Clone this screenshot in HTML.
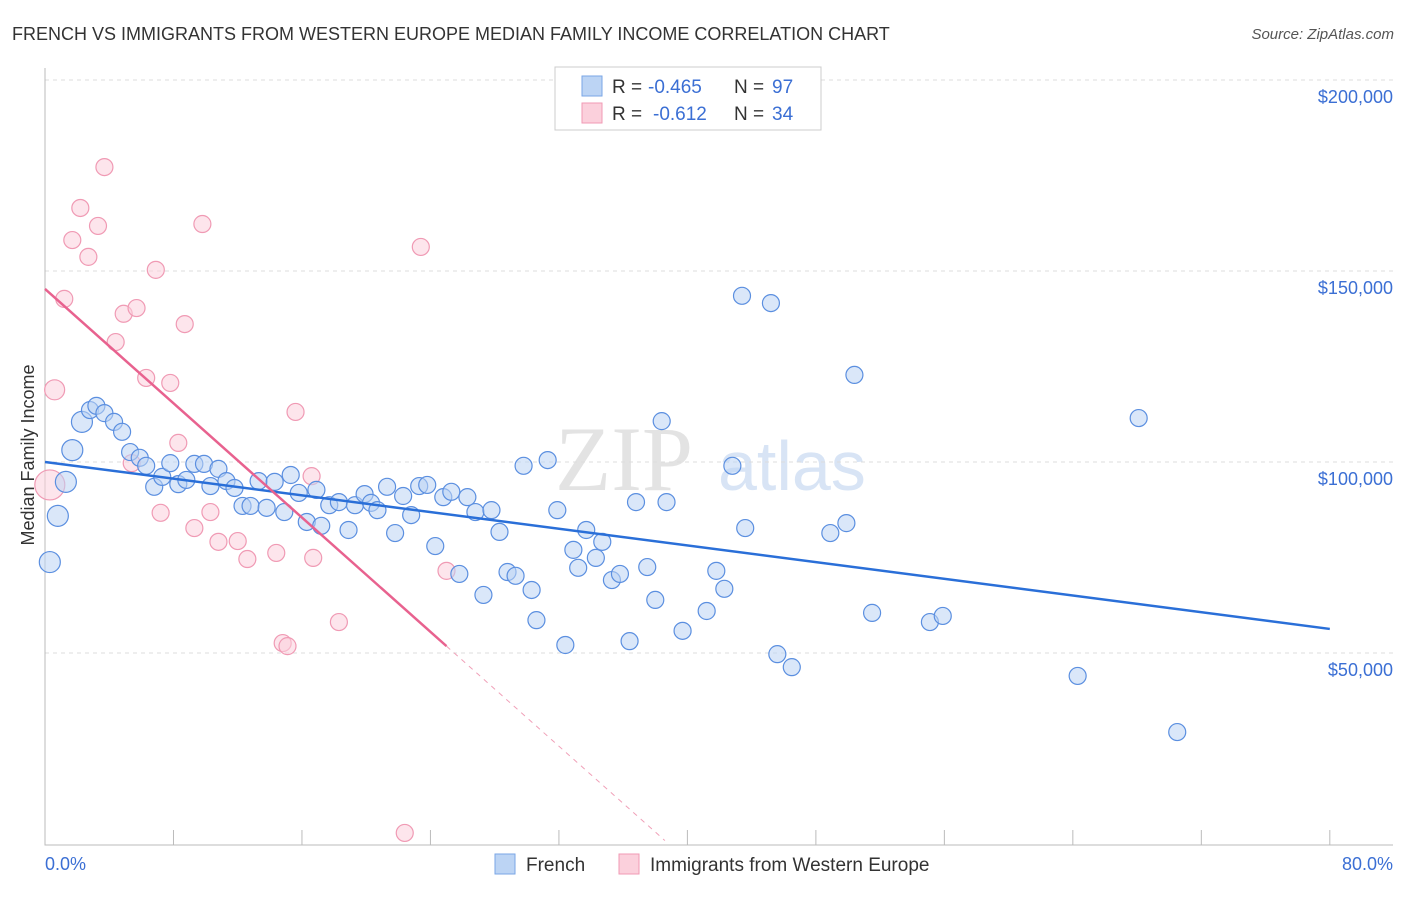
<!DOCTYPE html>
<html><head><meta charset="utf-8"><style>
body{margin:0;background:#fff;font-family:"Liberation Sans",sans-serif;}
</style></head><body>
<svg width="1406" height="892" xmlns="http://www.w3.org/2000/svg" font-family="Liberation Sans, sans-serif">
<text x="12" y="40" font-size="18" fill="#333">FRENCH VS IMMIGRANTS FROM WESTERN EUROPE MEDIAN FAMILY INCOME CORRELATION CHART</text>
<text x="1394" y="39" font-size="15" fill="#555" font-style="italic" text-anchor="end">Source: ZipAtlas.com</text>
<g><text x="555" y="490" font-size="92" fill="#ddd" font-family="Liberation Serif, serif" opacity="0.8">ZIP</text><text x="718" y="490" font-size="70" fill="#c8daf2" opacity="0.7">atlas</text></g>
<g id="grid"></g><g id="axes"></g><g id="marks"></g>
<text transform="translate(34,455) rotate(-90)" font-size="18" fill="#333" text-anchor="middle">Median Family Income</text>
<text x="45" y="870" font-size="18" fill="#3b6fd4">0.0%</text>
<text x="1393" y="870" font-size="18" fill="#3b6fd4" text-anchor="end">80.0%</text>
<g>
<rect x="555" y="67" width="266" height="63" fill="#fff" stroke="#ccc"/>
<rect x="582" y="76" width="20" height="20" fill="#bcd4f4" stroke="#7aa6e6"/>
<rect x="582" y="103" width="20" height="20" fill="#fbd0dc" stroke="#f09ab4"/>
<text x="612" y="93" font-size="19" fill="#333">R =</text>
<text x="648" y="93" font-size="19" fill="#3b6fd4">-0.465</text>
<text x="734" y="93" font-size="19" fill="#333">N =</text>
<text x="772" y="93" font-size="19" fill="#3b6fd4">97</text>
<text x="612" y="120" font-size="19" fill="#333">R =</text>
<text x="653" y="120" font-size="19" fill="#3b6fd4">-0.612</text>
<text x="734" y="120" font-size="19" fill="#333">N =</text>
<text x="772" y="120" font-size="19" fill="#3b6fd4">34</text>
</g>
<g>
<rect x="495" y="854" width="20" height="20" fill="#bcd4f4" stroke="#7aa6e6"/>
<text x="526" y="871" font-size="19" fill="#333">French</text>
<rect x="619" y="854" width="20" height="20" fill="#fbd0dc" stroke="#f09ab4"/>
<text x="650" y="871" font-size="19" fill="#333">Immigrants from Western Europe</text>
</g>
</svg>
<script>
const yTicks=[50000,100000,150000,200000];
const yTickLabels=["$50,000","$100,000","$150,000","$200,000"];
const xTicks=[0,8,16,24,32,40,48,56,64,72,80];
const frenchX=[0.3,0.8,1.3,1.7,2.3,2.8,3.2,3.7,4.3,4.8,5.3,5.9,6.3,6.8,7.3,7.8,8.3,8.8,9.3,9.9,10.3,10.8,11.3,11.8,12.3,12.8,13.3,13.8,14.3,14.9,15.3,15.8,16.3,16.9,17.2,17.7,18.3,18.9,19.3,19.9,20.3,20.7,21.3,21.8,22.3,22.8,23.3,23.8,24.3,24.8,25.3,25.8,26.3,26.8,27.3,27.8,28.3,28.8,29.3,29.8,30.3,30.6,31.3,31.9,32.4,32.9,33.2,33.7,34.3,34.7,35.3,35.8,36.4,36.8,37.5,38.0,38.4,38.7,39.7,41.2,41.8,42.3,42.8,43.4,43.6,45.2,45.6,46.5,48.9,49.9,50.4,51.5,55.1,55.9,64.3,68.1,70.5];
const frenchY=[73.8,85.9,94.8,103.1,110.5,113.6,114.7,112.8,110.5,107.9,102.6,101.1,99.0,93.5,96.1,99.7,94.2,95.3,99.5,99.5,93.7,98.2,95.0,93.2,88.5,88.5,95.0,88.0,94.8,86.9,96.6,91.9,84.3,92.7,83.3,88.7,89.5,82.2,88.7,91.6,89.3,87.4,93.5,81.4,91.1,86.1,93.7,94.0,78.0,90.8,92.2,70.7,90.8,86.9,65.2,87.4,81.7,71.2,70.2,99.0,66.5,58.6,100.5,87.4,52.1,77.0,72.3,82.2,74.9,79.1,69.1,70.7,53.1,89.5,72.5,63.9,110.7,89.5,55.8,61.0,71.5,66.8,99.0,143.5,82.7,141.6,49.7,46.3,81.4,84.0,122.8,60.5,58.1,59.7,44.0,111.5,29.3];
const immX=[0.3,0.6,1.2,1.7,2.2,2.7,3.3,3.7,4.4,4.9,5.7,5.4,6.3,6.9,7.2,7.8,8.3,8.7,9.3,9.8,10.3,10.8,12.0,12.6,14.4,14.8,15.1,15.6,16.6,16.7,18.3,22.4,23.4,25.0];
const immY=[94.0,118.9,142.7,158.1,166.5,153.7,161.8,177.2,131.4,138.8,140.3,99.7,122.0,150.3,86.7,120.7,105.0,136.1,82.7,162.3,86.9,79.1,79.3,74.6,76.2,52.6,51.8,113.1,96.3,74.9,58.1,2.9,156.3,71.5];
const frenchTrend=[[0,100.0],[80,56.3]];
const immTrendSolid=[[0,145.3],[25,51.8]];
const immTrendDash=[[25,51.8],[38.6,0.9]];
const X=p=>45+p*16.06, Y=k=>844-k*191/50;
const NS="http://www.w3.org/2000/svg";
function mk(t,a,p){const e=document.createElementNS(NS,t);for(const k in a)e.setAttribute(k,a[k]);p.appendChild(e);return e;}
const grid=document.getElementById('grid'),axes=document.getElementById('axes'),marks=document.getElementById('marks');
yTicks.forEach((v,i)=>{const y=Y(v/1000);
const l=mk('line',{x1:45,x2:1393,y1:y,y2:y,stroke:'#ddd','stroke-dasharray':'4,4'},grid);


const t=mk('text',{x:1393,y:y+23,'font-size':18,fill:'#3b6fd4','text-anchor':'end'},grid);t.textContent=yTickLabels[i];

});
const ax=mk('path',{d:'M45,68V845H1393',stroke:'#bbb',fill:'none'},axes);


xTicks.forEach(v=>{const t=mk('line',{x1:X(v),x2:X(v),y1:845,y2:830,stroke:'#bbb'},axes);

});
function dot(x,y,fill,stroke,r,name){const c=mk('circle',{cx:X(x),cy:Y(y),r:r,fill:fill,stroke:stroke,'stroke-width':1.2,'fill-opacity':0.55},marks);

}
immX.forEach((x,i)=>dot(x,immY[i],'#fbd0dc','#f09ab4',i==0?15:(i==1?10:8.5),'immigrant-point'));
frenchX.forEach((x,i)=>dot(x,frenchY[i],'#bcd4f4','#5b8fe0',i<5?10.5:8.5,'french-point'));
function line(pts,stroke,w,dash,name){const l=mk('line',{x1:X(pts[0][0]),y1:Y(pts[0][1]),x2:X(pts[1][0]),y2:Y(pts[1][1]),stroke:stroke,'stroke-width':w},marks);
if(dash)l.setAttribute('stroke-dasharray',dash);

}
line(frenchTrend,'#2a6fd8',2.5,null,'french-trend-line');
line(immTrendSolid,'#e8628f',2.5,null,'immigrant-trend-line');
line(immTrendDash,'#f0a0b8',1,'5,5','immigrant-trend-extension');
</script>
</body></html>
